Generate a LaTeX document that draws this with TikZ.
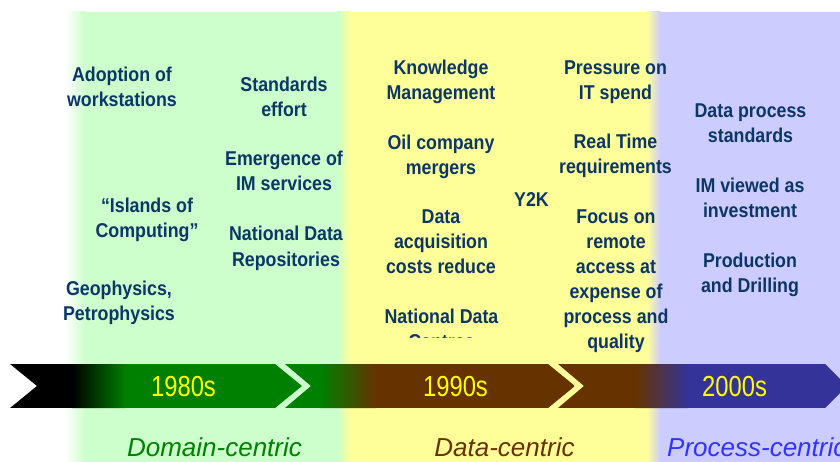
\documentclass[tikz,border=0pt]{standalone}
\usepackage{fontspec}
\setmainfont{Liberation Sans}
\newfontfamily\bodyfont[FakeStretch=0.89]{Liberation Sans}
\newfontfamily\yearfont[FakeStretch=0.82]{Liberation Sans}
\definecolor{bggreen}{HTML}{CCFFCC}
\definecolor{bgyellow}{HTML}{FFFF99}
\definecolor{bglav}{HTML}{CCCCFF}
\definecolor{bandgreen}{HTML}{008000}
\definecolor{bandbrown}{HTML}{663300}
\definecolor{bandblue}{HTML}{333399}
\definecolor{txtblue}{HTML}{0B3666}
\definecolor{yearyellow}{HTML}{FFFF00}
\definecolor{procblue}{HTML}{3333FF}
\begin{document}
\begin{tikzpicture}[x=1pt,y=-1pt,
  item/.style={font=\bodyfont\bfseries\fontsize{20}{25}\selectfont, text=txtblue, align=center, anchor=base, inner sep=0pt},
  yearlabel/.style={font=\yearfont\fontsize{29}{33}\selectfont, text=yearyellow, anchor=base, inner sep=0pt},
  eralabel/.style={font=\itshape\fontsize{26}{30}\selectfont, anchor=base, inner sep=0pt}]
\useasboundingbox (0,0) rectangle (840,462);
\clip (0,0) rectangle (840,462);
% background panels
\fill[white] (0,0) rectangle (840,462);
\shade[left color=white,right color=bggreen] (65,12) rectangle (85.5,462);
\fill[bggreen] (85,12) rectangle (337.5,462);
\shade[left color=bggreen,right color=bgyellow] (337,12) rectangle (350.5,462);
\fill[bgyellow] (350,12) rectangle (647.5,462);
\shade[left color=bgyellow,right color=bglav] (647,12) rectangle (660.5,462);
\fill[bglav] (660,12) rectangle (840,462);
% band segment 1
\begin{scope}
\clip (10,364) -- (275,364) -- (302,386) -- (275,408) -- (10,408) -- (37,386) -- cycle;
\fill[black] (10,364) rectangle (72.5,408);
\shade[left color=black,right color=bandgreen] (72,364) rectangle (125.5,408);
\fill[bandgreen] (125,364) rectangle (302,408);
\end{scope}
% band segment 2
\begin{scope}
\clip (285,364) -- (548,364) -- (575,386) -- (548,408) -- (285,408) -- (311,386) -- cycle;
\fill[bandgreen] (285,364) rectangle (320.5,408);
\shade[left color=bandgreen,right color=bandbrown] (320,364) rectangle (375.5,408);
\fill[bandbrown] (375,364) rectangle (575,408);
\end{scope}
% band segment 3
\begin{scope}
\clip (558,364) -- (825,364) -- (847,386) -- (825,408) -- (558,408) -- (584,386) -- cycle;
\fill[bandbrown] (558,364) rectangle (635.5,408);
\shade[left color=bandbrown,right color=bandblue] (635,364) rectangle (687.5,408);
\fill[bandblue] (687,364) rectangle (847,408);
\end{scope}
% year labels
\node[yearlabel] (y80) at (183.5,396) {1980s};
\node[yearlabel] (y90) at (455.5,396) {1990s};
\node[yearlabel] (y00) at (734.5,396) {2000s};
% era labels
\node[eralabel, text=bandgreen] (dom) at (214.5,456) {Domain-centric};
\node[eralabel, text=bandbrown] (dat) at (504.5,456) {Data-centric};
\node[eralabel, text=procblue, anchor=base west] (pro) at (667,456) {Process-centric};
% column 1 (y = baseline of last line)
\node[item] (adopt) at (122,107) {Adoption of\\workstations};
\node[item] (isl) at (147,238) {“Islands of\\Computing”};
\node[item] (geo) at (119,320) {Geophysics,\\Petrophysics};
% column 2
\node[item] (std) at (284,117) {Standards\\effort};
\node[item] (emerg) at (284,191) {Emergence of\\IM services};
\node[item] (ndr) at (286,266) {National Data\\Repositories};
% column 3
\node[item] (km) at (441,100) {Knowledge\\Management};
\node[item] (oil) at (441,175) {Oil company\\mergers};
\node[item] (acq) at (441,273) {Data\\acquisition\\costs reduce};
\begin{scope}
\clip (340,290) rectangle (545,337);
\node[item] (ndc) at (441.5,348) {National Data\\Centres};
\end{scope}
\node[item] (y2k) at (531.5,207) {Y2K};
% column 4
\node[item] (press) at (615.5,100) {Pressure on\\IT spend};
\node[item] (rt) at (615.5,174) {Real Time\\requirements};
\node[item] (focus) at (616,348) {Focus on\\remote\\access at\\expense of\\process and\\quality};
% column 5
\node[item] (dps) at (750.5,143) {Data process\\standards};
\node[item] (imv) at (750,218) {IM viewed as\\investment};
\node[item] (prod) at (750,292) {Production\\and Drilling};
\end{tikzpicture}
\end{document}
